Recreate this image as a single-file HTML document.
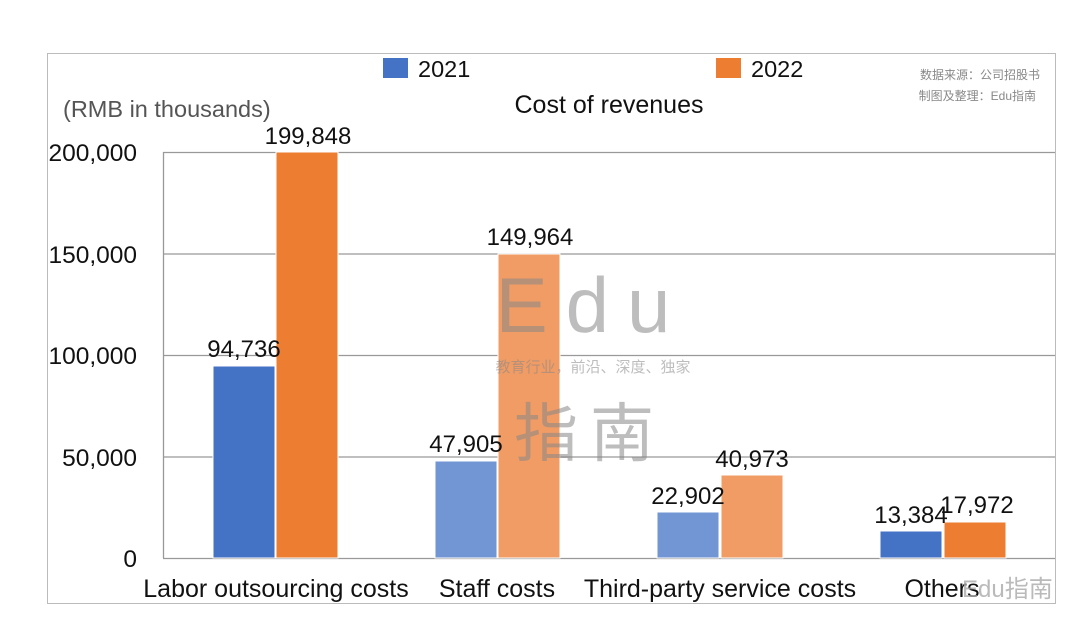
<!DOCTYPE html>
<html><head><style>body{margin:0;background:#fff}svg{display:block}</style></head><body>
<svg width="1080" height="635" xmlns="http://www.w3.org/2000/svg" font-family="Liberation Sans, Noto Sans CJK SC, sans-serif">
<rect x="47.5" y="53.5" width="1008" height="550" fill="#fff" stroke="#bbb"/>
<g stroke="#999" stroke-width="1.3">
<line x1="163" y1="152.5" x2="1055" y2="152.5"/>
<line x1="163" y1="254" x2="1055" y2="254"/>
<line x1="163" y1="355.5" x2="1055" y2="355.5"/>
<line x1="163" y1="457" x2="1055" y2="457"/>
<line x1="163" y1="558.5" x2="1055" y2="558.5"/>
<line x1="163.5" y1="152" x2="163.5" y2="558"/>
</g>
<g fill="#111" font-size="24.5" text-anchor="end">
<text x="137" y="161">200,000</text><text x="137" y="263">150,000</text>
<text x="137" y="364">100,000</text><text x="137" y="466">50,000</text><text x="137" y="567">0</text>
</g>
<text x="63" y="117" font-size="23.5" fill="#555">(RMB in thousands)</text>
<text x="609" y="113" font-size="25" fill="#111" text-anchor="middle">Cost of revenues</text>
<rect x="383" y="58" width="25" height="20" fill="#4472c4"/><text x="418" y="77" font-size="23.5" fill="#111">2021</text>
<rect x="716" y="58" width="25" height="20" fill="#ed7d31"/><text x="751" y="77" font-size="23.5" fill="#111">2022</text>
<text x="1040" y="79" font-size="12" fill="#888" text-anchor="end">数据来源：公司招股书</text>
<text x="1036" y="100" font-size="12" fill="#888" text-anchor="end">制图及整理：Edu指南</text>
<g stroke="#fff" stroke-width="1">
<rect x="213" y="366" width="62" height="192" fill="#4472c4"/>
<rect x="276" y="152" width="62" height="406" fill="#ed7d31"/>
<rect x="435" y="461" width="62" height="97" fill="#7295d3"/>
<rect x="498" y="254" width="62" height="304" fill="#f19c65"/>
<rect x="657" y="512" width="62" height="46" fill="#7295d3"/>
<rect x="721" y="475" width="62" height="83" fill="#f19c65"/>
<rect x="880" y="531" width="62" height="27" fill="#4472c4"/>
<rect x="944" y="522" width="62" height="36" fill="#ed7d31"/>
</g>
<g font-size="24" fill="#111" text-anchor="middle">
<text x="244" y="357">94,736</text><text x="308" y="144">199,848</text>
<text x="466" y="452">47,905</text><text x="530" y="245">149,964</text>
<text x="688" y="504">22,902</text><text x="752" y="467">40,973</text>
<text x="911" y="523">13,384</text><text x="977" y="513">17,972</text>
</g>
<g font-size="25" fill="#111" text-anchor="middle">
<text x="276" y="597">Labor outsourcing costs</text><text x="497" y="597">Staff costs</text>
<text x="720" y="597">Third-party service costs</text><text x="942" y="597">Others</text>
</g>
<g fill="#888" opacity="0.55">
<text x="592" y="332" font-size="78" text-anchor="middle" letter-spacing="18">Edu</text>
<text x="593" y="372" font-size="15" text-anchor="middle">教育行业，前沿、深度、独家</text>
<text x="590" y="456" font-size="64" text-anchor="middle" letter-spacing="12">指南</text>
</g>
<text x="962" y="597" font-size="24" fill="#aaa" opacity="0.8">Edu指南</text>
</svg>
</body></html>
